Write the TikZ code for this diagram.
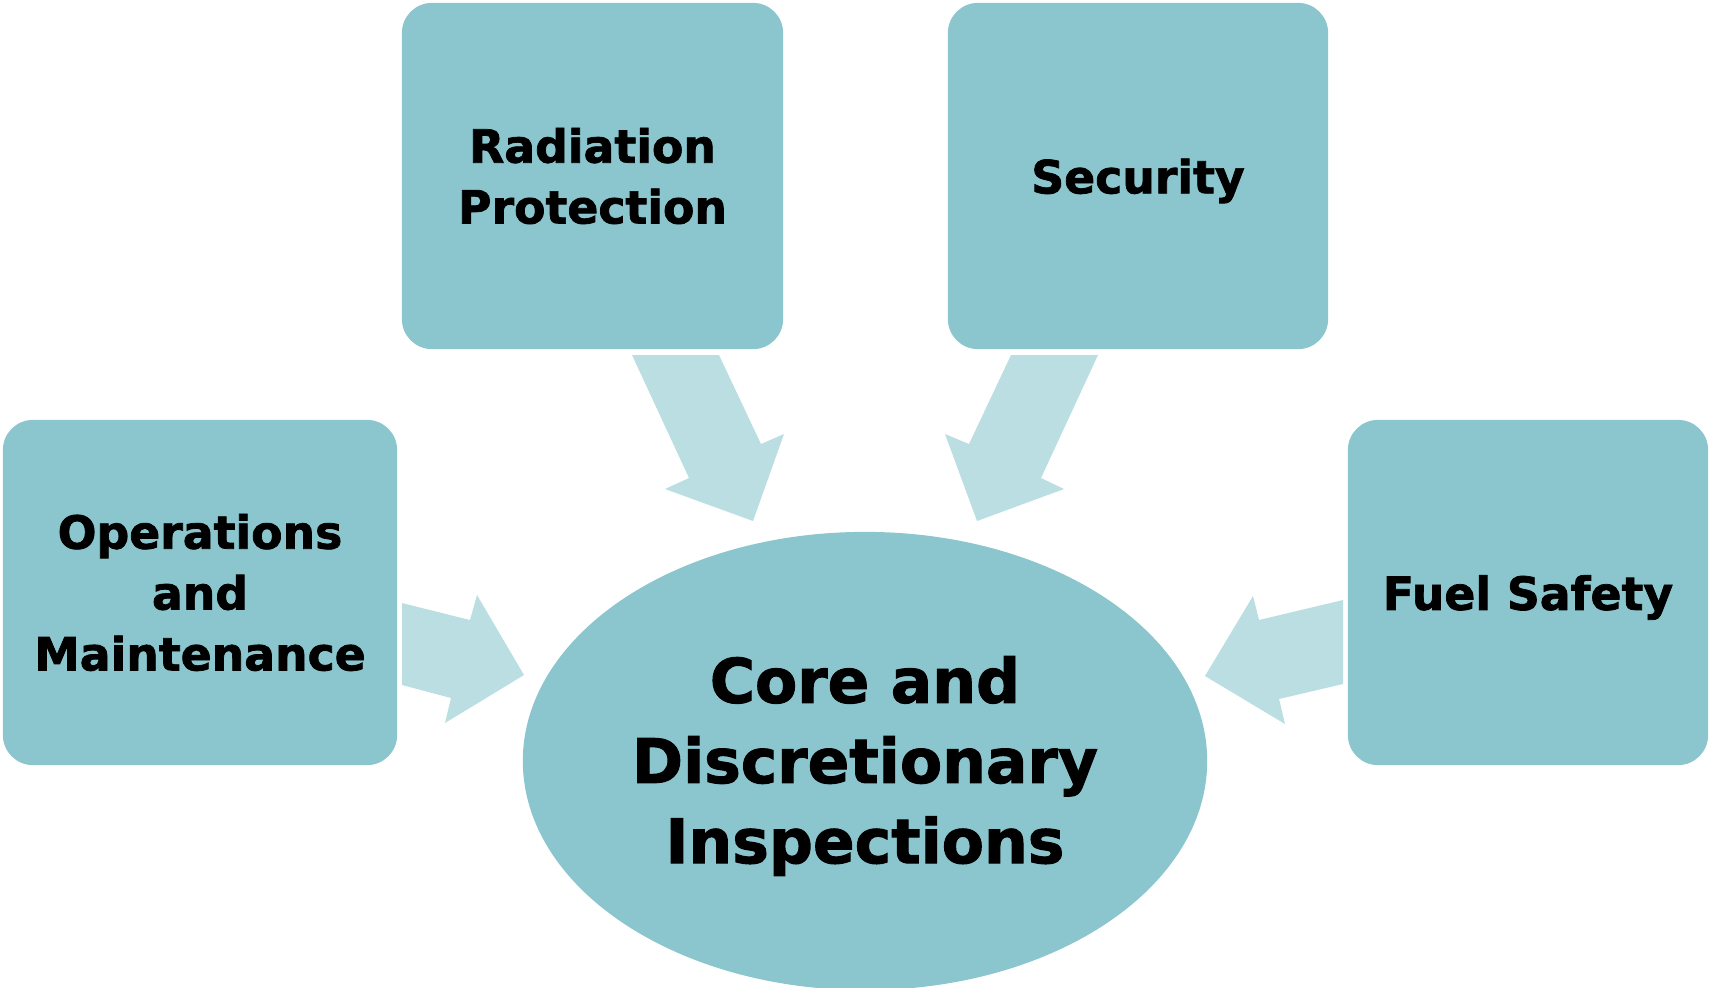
\documentclass[tikz,border=0pt]{standalone}
\usepackage{fontspec}
\setmainfont{DejaVu Sans}[BoldFeatures={FakeBold=1.6}]
\usetikzlibrary{shapes.geometric}
\definecolor{boxteal}{RGB}{139,198,206}
\definecolor{arrowteal}{RGB}{187,222,226}

\begin{document}
\begin{tikzpicture}[x=0.01cm, y=-0.01cm,
   box/.style={fill=boxteal, rounded corners=0.3cm, align=center, inner sep=0pt,
      font=\fontsize{13}{17.3}\selectfont\bfseries},
   blockarrow/.style={fill=arrowteal}]
   \useasboundingbox (0,0) rectangle (1709,987);

   \node [box, minimum width=3.81cm, minimum height=3.46cm] (rad) at (592.5,176) {Radiation\\Protection};
   \node [box, minimum width=3.80cm, minimum height=3.46cm, text depth=0pt] (sec) at (1138,176) {Security};
   \node [box, minimum width=3.94cm, minimum height=3.45cm] (ops) at (200,592.5) {Operations\\and\\Maintenance};
   \node [box, minimum width=3.60cm, minimum height=3.45cm, text depth=0pt] (fuel) at (1528,592.5) {Fuel Safety};
   \node [ellipse, fill=boxteal, inner sep=0pt, minimum width=6.84cm, minimum height=4.58cm] (core) at (865,761) {};
   \node [align=center, font=\fontsize{17.5}{22.8}\selectfont\bfseries] (corelabel) at (865,766) {Core and\\Discretionary\\Inspections};

   \fill [blockarrow] (632,355) -- (719,355) -- (761,444) -- (784,434) -- (753,521) -- (665,489) -- (689,478) -- cycle;
   \fill [blockarrow] (1098,355) -- (1011,355) -- (969,444) -- (945,434) -- (977,521) -- (1064,489) -- (1041,478) -- cycle;
   \fill [blockarrow] (402,603) -- (470,620) -- (477,595) -- (524,675) -- (445,723) -- (451,698) -- (402,685) -- cycle;
   \fill [blockarrow] (1343,600) -- (1259,620) -- (1253,596) -- (1205,676) -- (1285,724) -- (1279,699) -- (1343,684) -- cycle;

\end{tikzpicture}
\end{document}
